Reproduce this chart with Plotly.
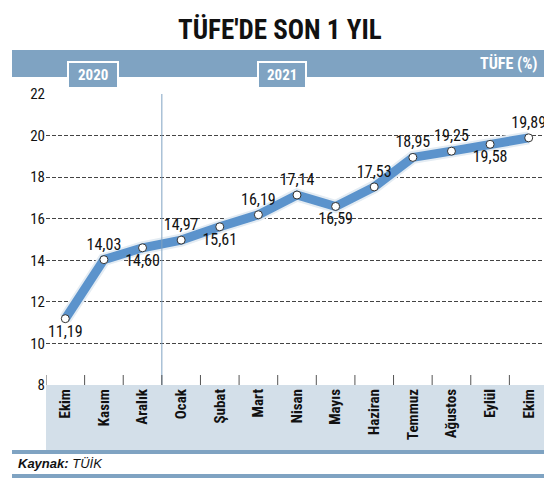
import plotly.graph_objects as go

months = ["Ekim","Kasım","Aralık","Ocak","Şubat","Mart","Nisan","Mayıs","Haziran","Temmuz","Ağustos","Eylül","Ekim"]
values = [11.19,14.03,14.60,14.97,15.61,16.19,17.14,16.59,17.53,18.95,19.25,19.58,19.89]
label_pos = ["bottom center","top center","bottom center","top center","bottom center","top center","top center",
             "bottom center","top center","top center","top center","bottom center","top center"]
yticks = [8,10,12,14,16,18,20,22]
xs = list(range(len(months)))

OFF = 8  # page body margin
W, H = 552-OFF, 482-OFF
L, R, T, B = 46-OFF, 4, 94-OFF, 97
pw, ph = W-L-R, H-T-B
def px(x): return (x-OFF-L)/pw
def py(y): return (H-B-(y-OFF))/ph

FONT = "Liberation Sans Narrow, Roboto Condensed, Arial Narrow, DejaVu Sans Condensed, sans-serif"
fig = go.Figure()
fig.add_trace(go.Scatter(x=xs, y=values, mode="lines", line=dict(color="#e4ecf3", width=13), hoverinfo="skip"))
fig.add_trace(go.Scatter(x=xs, y=values, mode="lines+markers+text",
    line=dict(color="#5b93cc", width=9),
    marker=dict(color="white", size=8, line=dict(color="#333", width=1)),
    text=[f"{v:.2f}".replace(".", ",") for v in values], textposition=label_pos,
    textfont=dict(family=FONT, size=16, color="#111")))

pill = "#7fa3c2"
shapes = [
    dict(type="rect", xref="paper", yref="paper", x0=0, x1=1, y0=0, y1=py(450), fillcolor="#d3dfe9", line_width=0, layer="below"),
    dict(type="rect", xref="paper", yref="paper", x0=px(12), x1=px(548), y0=py(50), y1=py(77), fillcolor=pill, line_width=0, layer="below"),
    dict(type="rect", xref="paper", yref="paper", x0=px(68), x1=px(118), y0=py(62), y1=py(88), fillcolor=pill, line=dict(color="white", width=2), layer="below"),
    dict(type="rect", xref="paper", yref="paper", x0=px(258), x1=px(306), y0=py(62), y1=py(88), fillcolor=pill, line=dict(color="white", width=2), layer="below"),
    dict(type="rect", xref="paper", yref="paper", x0=px(12), x1=px(548), y0=py(450), y1=py(454), fillcolor=pill, line_width=0),
    dict(type="rect", xref="paper", yref="paper", x0=px(12), x1=px(548), y0=py(474), y1=py(478), fillcolor=pill, line_width=0),
    dict(type="line", xref="x", yref="paper", x0=2.5, x1=2.5, y0=0, y1=1, line=dict(color=pill, width=1)),
]
def ann(text, x, y, size, color, xanchor="center", family=FONT):
    return dict(text=text, xref="paper", yref="paper", x=px(x), y=py(y), xanchor=xanchor, yanchor="middle",
                showarrow=False, font=dict(family=family, size=size, color=color))
annotations = [
    ann("<b>TÜFE'DE SON 1 YIL</b>", 280, 30, 27, "#111"),
    ann("<b>TÜFE (%)</b>", 540, 64, 16, "white", "right"),
    ann("<b>2020</b>", 93, 75, 15, "white"),
    ann("<b>2021</b>", 282, 75, 15, "white"),
    ann("<i><b>Kaynak:</b> TÜİK</i>", 16, 463, 13, "#111", "left", "Liberation Sans, sans-serif"),
]
fig.update_layout(width=W, height=H, margin=dict(l=L, r=R, t=T, b=B), paper_bgcolor="white", plot_bgcolor="white",
    showlegend=False, shapes=shapes, annotations=annotations,
    xaxis=dict(range=[-0.5, 12.5], tickvals=xs, ticktext=[f"<b>{m}</b>" for m in months], tickangle=-90,
               showgrid=False, zeroline=False, ticks="", tickfont=dict(family=FONT, size=15, color="#111")),
    yaxis=dict(range=[8, 22], tickvals=yticks, showgrid=True, gridcolor="#444", griddash="4px,2px", gridwidth=1,
               zeroline=False, ticks="", tickfont=dict(family=FONT, size=15, color="#111")))
for i in range(13):
    xv = i + 0.5 if i < 12 else -0.5
    fig.add_shape(type="line", xref="x", yref="paper", x0=xv, x1=xv, y0=0, y1=py(375), line=dict(color="#555", width=1))
fig.write_html("out.html")
